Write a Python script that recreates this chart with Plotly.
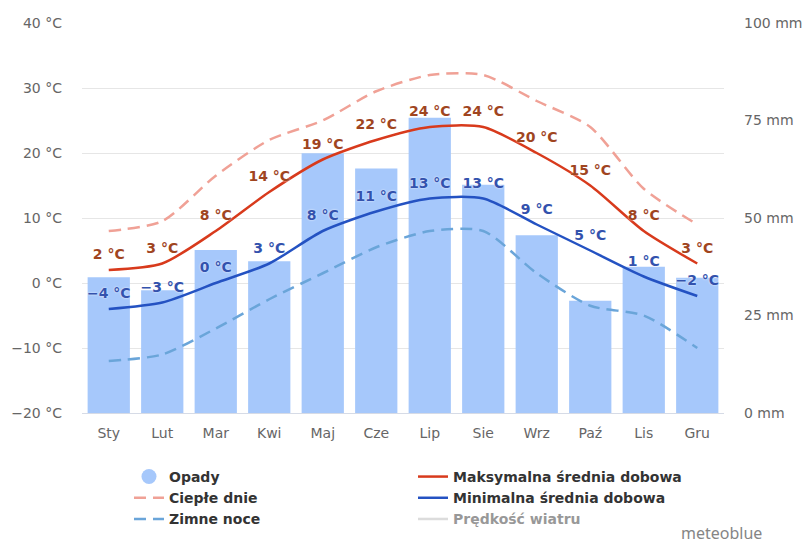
import plotly.graph_objects as go

months = ["Sty", "Lut", "Mar", "Kwi", "Maj", "Cze", "Lip", "Sie", "Wrz", "Paź", "Lis", "Gru"]
precip_mm = [34.8, 31.5, 41.8, 38.9, 66.6, 62.7, 75.7, 58.5, 45.6, 28.8, 37.5, 34.7]
max_temp = [2, 3, 8, 14, 19, 22, 24, 24, 20, 15, 8, 3]
min_temp = [-4, -3, 0, 3, 8, 11, 13, 13, 9, 5, 1, -2]
warm_days = [8, 9.5, 16.5, 22, 25, 29.5, 32, 32, 28, 24, 14.5, 9]
cold_nights = [-12, -11, -7, -2.5, 1.5, 5.5, 8, 8, 1.5, -3.5, -5, -10]
wind_speed = [None]  # no values shown (legend-only series)

temp_ticks = [-20, -10, 0, 10, 20, 30, 40]
mm_ticks = [0, 25, 50, 75, 100]


def lbl(v):
    s = str(abs(v))
    return ("\u2212" + s if v < 0 else s) + " °C"


TICKFONT = dict(family="DejaVu Sans", size=14, color="#666666")
LEGFONT = dict(family="DejaVu Sans", size=14, color="#333333", weight="bold")
LBLFONT = "DejaVu Sans"
SMOOTH = 0.7
CLEAR = "rgba(0,0,0,0)"

fig = go.Figure()

fig.add_trace(go.Bar(
    x=months, y=precip_mm, yaxis="y", marker=dict(color="#a6c8fb", line=dict(width=0)),
    showlegend=False, name="Opady"))

# legend proxy for precipitation (circle symbol)
fig.add_trace(go.Scatter(
    x=[None], y=[None], mode="markers", yaxis="y",
    marker=dict(symbol="circle", size=15, color="#a6c8fb"),
    name="Opady", legend="legend", legendrank=1))

fig.add_trace(go.Scatter(
    x=months, y=warm_days, yaxis="y2", mode="lines", name="Ciepłe dnie",
    line=dict(color="#f0a196", width=2.5, dash="12px,7px", shape="spline", smoothing=SMOOTH),
    legend="legend", legendrank=2))

fig.add_trace(go.Scatter(
    x=months, y=cold_nights, yaxis="y2", mode="lines", name="Zimne noce",
    line=dict(color="#6aa5d9", width=2.5, dash="12px,7px", shape="spline", smoothing=SMOOTH),
    legend="legend", legendrank=3))

fig.add_trace(go.Scatter(
    x=months, y=max_temp, yaxis="y2", mode="lines+markers+text", name="Maksymalna średnia dobowa",
    line=dict(color="#d83a1c", width=2.5, shape="spline", smoothing=SMOOTH),
    marker=dict(size=10, color=CLEAR, line=dict(width=0)),
    text=[lbl(v) for v in max_temp], textposition="top center",
    textfont=dict(family=LBLFONT, size=14, color="#a0451f", weight="bold",
                  shadow="0px 0px 2px #ffffff"),
    legend="legend2", legendrank=4))

fig.add_trace(go.Scatter(
    x=months, y=min_temp, yaxis="y2", mode="lines+markers+text", name="Minimalna średnia dobowa",
    line=dict(color="#2452c2", width=2.5, shape="spline", smoothing=SMOOTH),
    marker=dict(size=10, color=CLEAR, line=dict(width=0)),
    text=[lbl(v) for v in min_temp], textposition="top center",
    textfont=dict(family=LBLFONT, size=14, color="#3352ad", weight="bold",
                  shadow="0px 0px 2px #ffffff"),
    legend="legend2", legendrank=5))

fig.add_trace(go.Scatter(
    x=wind_speed, y=wind_speed, yaxis="y2", mode="lines", name="Prędkość wiatru",
    line=dict(color="#bbbbbb", width=2.5), visible="legendonly",
    legend="legend2", legendrank=6))

fig.update_layout(
    width=806, height=543,
    margin=dict(l=82, r=82, t=23, b=130, autoexpand=False),
    paper_bgcolor="white", plot_bgcolor="white",
    bargap=0.21,
    xaxis=dict(tickfont=TICKFONT, showline=True, linecolor="#d6dbe6", linewidth=1,
               ticks="", showgrid=False, fixedrange=True, automargin=False,
               range=[-0.5, 11.5], ticklabelstandoff=7),
    yaxis=dict(side="right", range=[0, 100], tickvals=mm_ticks,
               ticktext=[f"{v} mm" for v in mm_ticks], tickfont=TICKFONT,
               showgrid=False, zeroline=False, ticklabelstandoff=19, automargin=False),
    yaxis2=dict(side="left", overlaying="y", range=[-20, 40], tickvals=temp_ticks,
                ticktext=[lbl(v) for v in temp_ticks], tickfont=TICKFONT,
                showgrid=True, gridcolor="#e6e6e6", gridwidth=1, zeroline=False,
                ticklabelstandoff=19, automargin=False),
    legend=dict(x=0.0732, y=-0.123, xanchor="left", yanchor="top", orientation="v",
                font=LEGFONT, bgcolor="rgba(0,0,0,0)", tracegroupgap=0,
                itemclick=False, itemdoubleclick=False),
    legend2=dict(x=0.5156, y=-0.123, xanchor="left", yanchor="top", orientation="v",
                 font=LEGFONT, bgcolor="rgba(0,0,0,0)", tracegroupgap=0,
                 itemclick=False, itemdoubleclick=False),
    annotations=[dict(text="meteoblue", xref="paper", yref="paper", x=1.063, y=-0.308,
                      xanchor="right", yanchor="middle", showarrow=False,
                      font=dict(family="Noto Sans", size=16, color="#858585"))],
)

fig.write_html(
    "out.html",
    config={"displayModeBar": False},
    post_script="document.body.style.margin='0px';document.body.style.overflow='hidden';",
)
